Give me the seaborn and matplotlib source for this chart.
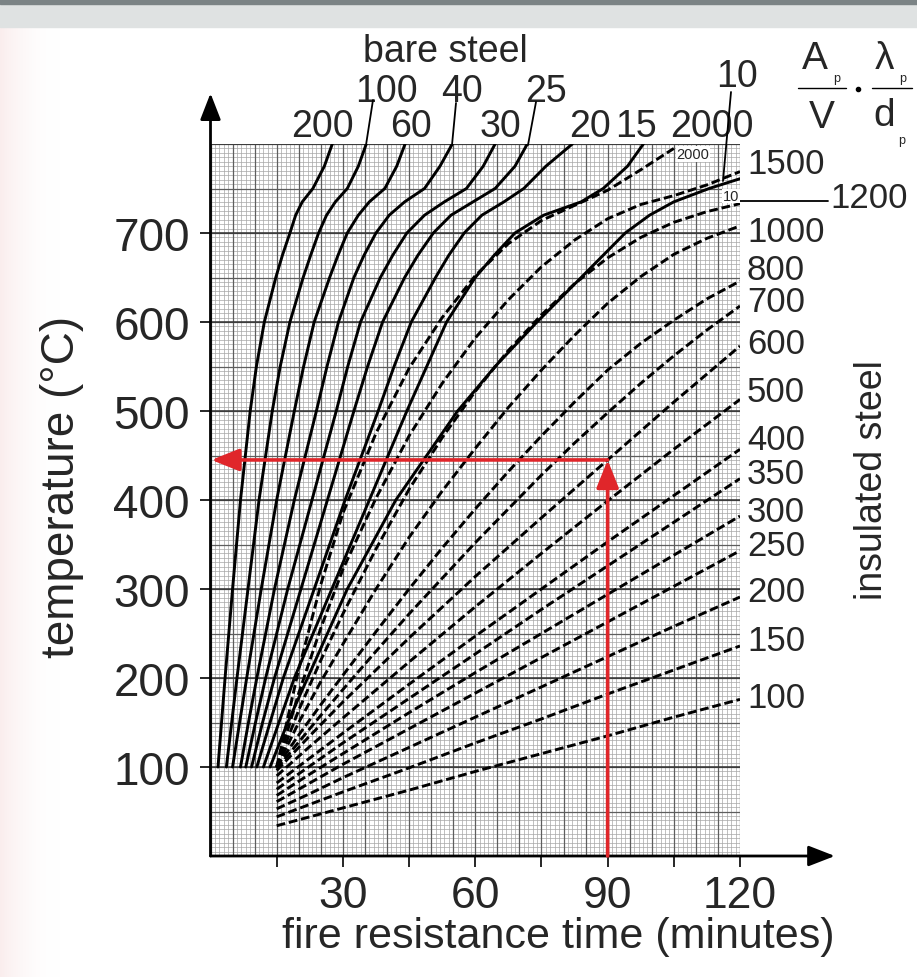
import numpy as np
import pandas as pd
import matplotlib
matplotlib.use("Agg")
import matplotlib.pyplot as plt
import seaborn as sns
from matplotlib.patches import Rectangle

# ---------------- data ----------------
# bare steel: time (min) at which each curve reaches the listed temperature
bare_T = [100, 150, 200, 300, 400, 500, 550, 600, 650, 675, 700, 720, 735, 750, 775, 800]
bare_200 = [1.7, 2.5, 3.3, 5.0, 6.8, 9.0, 10.4, 12.2, 14.8, 16.3, 18.0, 19.3, 20.8, 23.2, 25.8, 27.6]
bare_100 = [3.6, 4.8, 6.0, 8.5, 11.0, 14.0, 15.8, 18.0, 21.0, 22.7, 24.5, 26.3, 28.3, 31.0, 33.5, 35.3]
bare_60 = [5.0, 6.6, 8.2, 11.5, 15.0, 19.0, 21.1, 23.5, 27.0, 28.9, 31.0, 33.5, 36.0, 39.5, 42.2, 44.1]
bare_40 = [6.8, 8.6, 10.5, 14.5, 19.0, 24.0, 26.4, 29.0, 32.5, 34.8, 37.5, 40.5, 44.0, 48.5, 52.0, 54.8]
bare_30 = [8.0, 10.2, 12.5, 17.5, 23.0, 28.5, 31.1, 34.0, 38.5, 41.3, 44.5, 48.5, 53.0, 58.0, 61.8, 64.5]
bare_25 = [9.3, 11.8, 14.5, 20.5, 26.5, 32.5, 35.6, 39.0, 44.0, 47.0, 50.5, 54.5, 59.5, 64.5, 69.0, 71.8]
bare_20 = [10.5, 13.5, 16.5, 23.5, 30.5, 38.0, 41.6, 45.5, 51.0, 54.0, 57.5, 61.5, 66.5, 71.0, 76.0, 82.0]
bare_15 = [12.0, 15.5, 19.0, 27.5, 36.0, 44.5, 49.0, 53.5, 60.0, 64.3, 69.0, 75.5, 84.0, 89.0, 94.5, 98.1]
bare10_T = [100, 150, 200, 300, 400, 500, 550, 600, 650, 675, 700, 720, 735, 750, 761]
bare_10 = [13.5, 17.5, 22.0, 31.0, 42.0, 56.0, 64.5, 74.0, 84.0, 89.0, 94.0, 99.5, 105.0, 113.0, 120.0]
bare_labels = ["200", "100", "60", "40", "30", "25", "20", "15", "10"]

# insulated steel (low values, nearly straight): temperature (°C) at the listed times
ins_t = [15, 22.5, 30, 45, 60, 75, 90, 105, 120]
ins_100 = [34, 44, 54, 74, 95, 115, 135, 156, 176]
ins_150 = [44, 58, 72, 99, 127, 154, 182, 209, 236]
ins_200 = [53, 70, 88, 122, 156, 190, 224, 258, 291]
ins_250 = [61, 82, 103, 143, 183, 223, 263, 303, 343]
ins_300 = [68, 92, 115, 161, 206, 250, 294, 338, 382]
ins_350 = [75, 101, 127, 177, 227, 277, 326, 375, 424]
ins_400 = [82, 110, 138, 193, 247, 300, 353, 405, 457]
ins_500 = [90, 123, 155, 218, 280, 340, 399, 457, 513]
ins_600 = [96, 135, 173, 245, 314, 380, 445, 510, 573]
ins_low_labels = ["100", "150", "200", "250", "300", "350", "400", "500", "600"]

# insulated steel (high values, curved): temperature (°C) at the listed times
ins_t_hi = [15, 20, 25, 30, 37.5, 45, 52.5, 60, 67.5, 75, 82.5, 90, 97.5, 105, 112.5, 120]
ins_700 = [98, 128, 158, 187, 230, 272, 312, 352, 390, 428, 464, 498, 531, 562, 591, 618]
ins_800 = [100, 136, 170, 203, 252, 300, 346, 390, 432, 472, 510, 546, 576, 602, 626, 646]
ins_1000 = [100, 150, 196, 238, 300, 358, 410, 458, 504, 546, 585, 621, 651, 676, 694, 708]
ins_1200 = [100, 164, 220, 272, 345, 412, 470, 522, 568, 608, 643, 672, 695, 712, 724, 733]
ins_1500 = [100, 183, 256, 322, 402, 472, 531, 582, 625, 662, 692, 716, 732, 742, 754, 769]
ins_2000 = [100, 210, 305, 385, 475, 548, 605, 652, 688, 714, 731, 748, 771, 795, np.nan, np.nan]
ins_hi_labels = ["700", "800", "1000", "1200", "1500", "2000"]

x_ticks = [15, 30, 45, 60, 75, 90, 105, 120]
x_ticklabels = ["", "30", "", "60", "", "90", "", "120"]
y_ticks = [100, 200, 300, 400, 500, 600, 700]

example_time = 90
example_temp = 445

# ---------------- build table ----------------
rows = []
bare_series = [bare_200, bare_100, bare_60, bare_40, bare_30, bare_25, bare_20, bare_15, bare_10]
for lab, ts in zip(bare_labels, bare_series):
    Ts = bare10_T if lab == "10" else bare_T
    for t, T in zip(ts, Ts):
        rows.append(dict(curve="bare " + lab, kind="bare", t=t, T=T))
ins_low = [ins_100, ins_150, ins_200, ins_250, ins_300, ins_350, ins_400, ins_500, ins_600]
for lab, Ts in zip(ins_low_labels, ins_low):
    for t, T in zip(ins_t, Ts):
        rows.append(dict(curve="ins " + lab, kind="insulated", t=t, T=T))
ins_hi = [ins_700, ins_800, ins_1000, ins_1200, ins_1500, ins_2000]
for lab, Ts in zip(ins_hi_labels, ins_hi):
    for t, T in zip(ins_t_hi, Ts):
        if not np.isnan(T):
            rows.append(dict(curve="ins " + lab, kind="insulated", t=t, T=T))
df = pd.DataFrame(rows)

# ---------------- figure ----------------
sns.set_style("white")
plt.rcParams['font.family'] = ['Liberation Sans', 'DejaVu Sans']

W, H = 917, 978
fig = plt.figure(figsize=(W / 100, H / 100), dpi=100)


def fx(x):
    return x / W


def fy(y):
    return 1 - y / H


# background decoration
bg = fig.add_axes([0, 0, 1, 1], zorder=-10)
bg.axis('off')
bg.set_xlim(0, W)
bg.set_ylim(H, 0)
grad = np.ones((10, 60, 3))
for i in range(60):
    f = (1 - i / 60) ** 2
    grad[:, i] = [1 - 0.02 * f, 1 - 0.07 * f, 1 - 0.07 * f]
bg.imshow(grad, extent=[0, 60, H, 28], aspect='auto', zorder=0)
bg.add_patch(Rectangle((0, 0), W, 28, color='#dfe2e2', zorder=1))
bg.add_patch(Rectangle((0, 0), W, 5, color='#7b8385', zorder=2))

ax = fig.add_axes([fx(210.5), fy(857), (740 - 210.5) / W, (857 - 145) / H])
ax.set_xlim(0, 120)
ax.set_ylim(0, 800)
ax.set_facecolor('none')

# graph-paper grid
ax.vlines(np.arange(0, 121, 1), 0, 800, color='#a6a6a6', lw=0.5, zorder=0)
ax.hlines(np.arange(0, 801, 5), 0, 120, color='#a6a6a6', lw=0.5, zorder=0)
ax.vlines(np.arange(0, 121, 5), 0, 800, color='#5e5e5e', lw=0.9, zorder=0.5)
ax.hlines(np.arange(0, 801, 50), 0, 120, color='#5e5e5e', lw=0.9, zorder=0.5)
ax.hlines(np.arange(100, 801, 100), 0, 120, color='#333333', lw=1.1, zorder=0.6)

sns.lineplot(data=df, x='t', y='T', units='curve', estimator=None, sort=False,
             style='kind', dashes={'bare': '', 'insulated': (3, 1.3)},
             color='black', linewidth=2.1, legend=False, ax=ax, zorder=3)

for s in ax.spines.values():
    s.set_visible(False)
ax.set_xlabel('')
ax.set_ylabel('')
ax.set_xticks(x_ticks)
ax.set_xticklabels(x_ticklabels, fontsize=32)
ax.set_yticks(y_ticks)
ax.set_yticklabels([str(v) for v in y_ticks], fontsize=33)
ax.tick_params(axis='x', direction='out', length=8, width=1.4, pad=6, bottom=True)
ax.tick_params(axis='y', direction='out', length=8, width=1.4, pad=7, left=True)

# axis arrows
ax.annotate('', xy=(141.5, 0), xytext=(0, 0), annotation_clip=False,
            arrowprops=dict(arrowstyle='-|>,head_length=0.9,head_width=0.35', lw=2.0,
                            color='black', shrinkA=0, shrinkB=0, mutation_scale=18), zorder=6)
ax.annotate('', xy=(0, 857), xytext=(0, 0), annotation_clip=False,
            arrowprops=dict(arrowstyle='-|>,head_length=0.9,head_width=0.35', lw=2.0,
                            color='black', shrinkA=0, shrinkB=0, mutation_scale=18), zorder=6)

# red example arrows
red = '#e0262a'
ax.annotate('', xy=(0.2, example_temp), xytext=(example_time, example_temp), annotation_clip=False,
            arrowprops=dict(arrowstyle='-|>,head_length=1.0,head_width=0.4', lw=2.6,
                            color=red, shrinkA=0, shrinkB=0, mutation_scale=17), zorder=7)
ax.annotate('', xy=(example_time, example_temp), xytext=(example_time, 0), annotation_clip=False,
            arrowprops=dict(arrowstyle='-|>,head_length=1.0,head_width=0.4', lw=2.6,
                            color=red, shrinkA=0, shrinkB=0, mutation_scale=17), zorder=7)

# axis titles
fig.text(fx(62), fy(487), 'temperature (°C)', rotation=90, ha='center', va='center', fontsize=33)
fig.text(fx(558), fy(937), 'fire resistance time (minutes)', ha='center', va='center', fontsize=31)
fig.text(fx(872), fy(480), 'insulated steel', rotation=90, ha='center', va='center', fontsize=27)
fig.text(fx(445), fy(52), 'bare steel', ha='center', va='center', fontsize=27)

# curve labels (top)
lab_fs = 27
for txt, x, y in [("100", 386, 92), ("40", 462, 92), ("25", 546, 92),
                  ("200", 322, 127), ("60", 411, 127), ("30", 500, 127),
                  ("20", 590, 127), ("15", 636, 127), ("2000", 712, 127), ("10", 737, 77)]:
    fig.text(fx(x), fy(y), txt, ha='center', va='center', fontsize=lab_fs)

# curve labels (right)
rfs = 25
for txt, y in [("1500", 164), ("1000", 232), ("800", 271), ("700", 302), ("600", 344),
               ("500", 393), ("400", 441), ("350", 475), ("300", 512), ("250", 547),
               ("200", 592), ("150", 642), ("100", 699)]:
    fig.text(fx(747), fy(y), txt, ha='left', va='center', fontsize=rfs)
fig.text(fx(830), fy(199), "1200", ha='left', va='center', fontsize=rfs)

# leader lines (figure pixel coordinates)
ov = fig.add_axes([0, 0, 1, 1], zorder=10)
ov.axis('off')
ov.set_xlim(0, W)
ov.set_ylim(H, 0)
ov.patch.set_alpha(0)
for (x0, y0, x1, y1) in [(373, 101, 366, 146), (456, 104, 452, 146),
                         (536, 103, 528, 146), (731, 93, 723, 182), (740, 202, 828, 202)]:
    ov.plot([x0, x1], [y0, y1], color='black', lw=1.3)

# small in-grid labels
fig.text(fx(693), fy(155), "2000", ha='center', va='center', fontsize=10.5,
         bbox=dict(facecolor='white', edgecolor='none', pad=0.5), zorder=11)
fig.text(fx(731), fy(197), "10", ha='center', va='center', fontsize=10.5,
         bbox=dict(facecolor='white', edgecolor='none', pad=0.3), zorder=11)

# formula  A_p/V . lambda_p/d_p
ffs = 28
fig.text(fx(815), fy(59), "A", ha='center', va='center', fontsize=ffs)
fig.text(fx(837), fy(79), "p", ha='center', va='center', fontsize=9)
fig.text(fx(822), fy(118), "V", ha='center', va='center', fontsize=ffs)
fig.text(fx(884), fy(59), "λ", ha='center', va='center', fontsize=ffs)
fig.text(fx(903), fy(79), "p", ha='center', va='center', fontsize=9)
fig.text(fx(884), fy(116), "d", ha='center', va='center', fontsize=ffs)
fig.text(fx(902), fy(141), "p", ha='center', va='center', fontsize=9)
ov.plot([798, 846], [89, 89], color='black', lw=1.0)
ov.plot([872, 912], [89, 89], color='black', lw=1.0)
ov.plot([858], [90], marker='o', color='black', ms=3)

fig.savefig("out.png", dpi=100)
